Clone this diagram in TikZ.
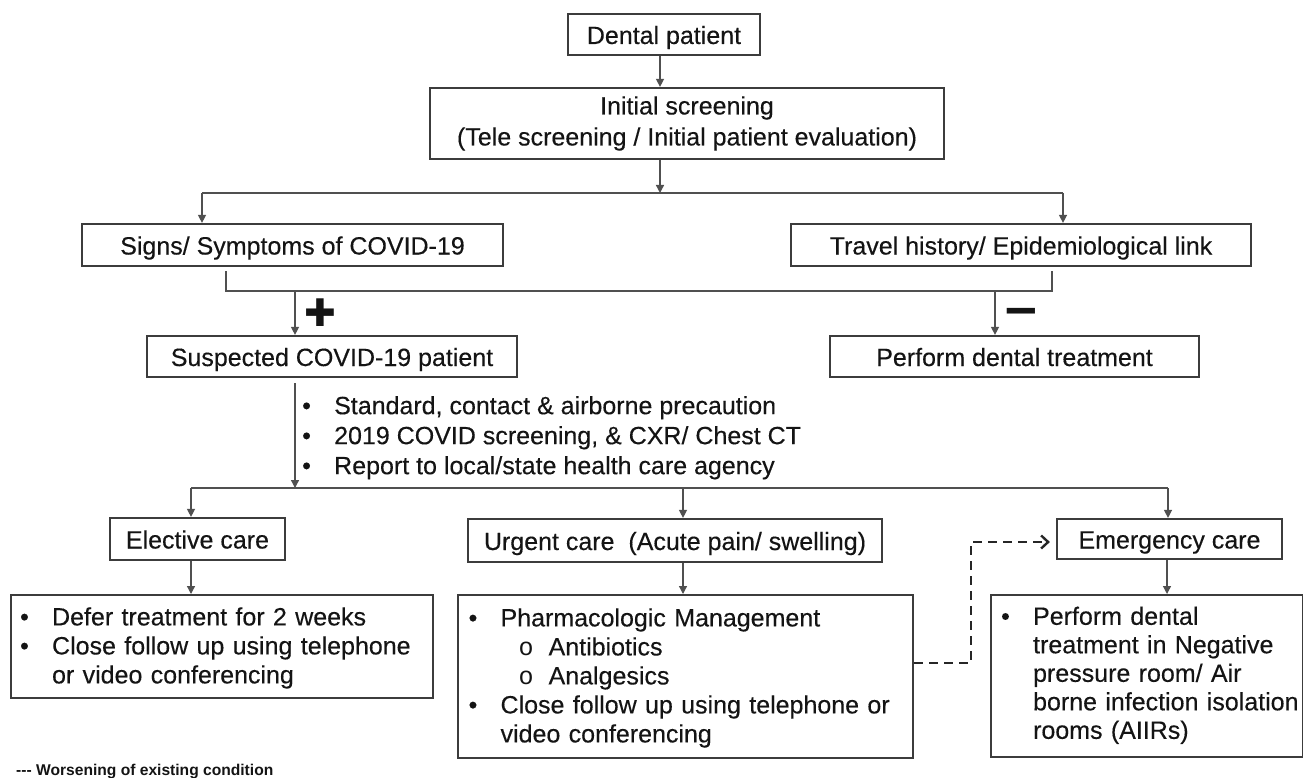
\documentclass[tikz,border=0pt]{standalone}
\usepackage{fontspec}
\setmainfont{Liberation Sans}[UprightFeatures={FakeBold=0.3}]
\setmonofont{Liberation Mono}
\newfontfamily\dejavu{DejaVu Sans}
\usetikzlibrary{arrows.meta}
\definecolor{boxc}{HTML}{3C3C3C}
\definecolor{linec}{HTML}{505050}
\definecolor{txtc}{HTML}{141414}
\newcommand\subbul[1]{\hspace*{18pt}\makebox[30pt][l]{\ttfamily o}#1}
\begin{document}
\begin{tikzpicture}[x=1pt,y=-1pt,
  every node/.style={text=txtc},
  boxbase/.style={draw=boxc, line width=2.2pt, inner sep=0pt, font=\fontsize{25}{29}\selectfont},
  box/.style={boxbase, text height=23pt, text depth=4pt},
  listbox/.style={boxbase, anchor=north west, align=left},
  arr/.style={draw=linec, line width=1.3pt, -{Triangle[length=8pt,width=8pt]}},
  conn/.style={draw=linec, line width=1.3pt},
  dasharr/.style={draw=black!85, line width=2.4pt, dash pattern=on 9pt off 6pt, -{Straight Barb[length=7pt,width=13pt,line width=2.4pt]}},
]
\useasboundingbox (0,0) rectangle (1303,778);

% boxes
\node[box, minimum width=192pt, minimum height=41pt] (dental) at (664,34.5) {Dental patient};
\node[boxbase, align=center, minimum width=514pt, minimum height=71pt, font=\fontsize{25}{31}\selectfont] (init) at (687,123.5) {Initial screening\\(Tele screening / Initial patient evaluation)};
\node[box, minimum width=421pt, minimum height=42pt] (signs) at (292.5,245) {Signs/ Symptoms of COVID-19};
\node[box, minimum width=460pt, minimum height=42pt] (travel) at (1021,245) {Travel history/ Epidemiological link};
\node[box, minimum width=370pt, minimum height=41pt] (suspected) at (332,356.5) {Suspected COVID-19 patient};
\node[box, minimum width=369pt, minimum height=41pt] (perform) at (1014.5,356.5) {Perform dental treatment};

\node[anchor=north west, inner sep=0pt, font=\fontsize{25}{30}\selectfont] (prec) at (302,393)
  {\begin{tabular}{@{}p{32pt}@{}l@{}}
   •&Standard, contact \& airborne precaution\\
   •&2019 COVID screening, \& CXR/ Chest CT\\
   •&Report to local/state health care agency
   \end{tabular}};

\node[box, minimum width=175pt, minimum height=42pt] (elective) at (197.5,539) {Elective care};
\node[box, minimum width=414pt, minimum height=43pt] (urgent) at (675,540.5) {Urgent care\ \ (Acute pain/ swelling)};
\node[box, minimum width=225pt, minimum height=40pt] (emergency) at (1169.5,539) {Emergency care};

\node[listbox, minimum width=422pt, minimum height=103pt, text width=404pt, inner xsep=9pt] (elecbox) at (10,594)
  {\vspace*{6pt}\raisebox{-5pt}[\height][\depth]{\begin{tabular}{@{}p{32pt}@{}l@{}}
   •&Defer treatment for 2 weeks\\
   •&Close follow up using telephone\\
   &or video conferencing
   \end{tabular}}};
\node[listbox, minimum width=455pt, minimum height=163pt, text width=434pt, inner xsep=10.5pt] (urgbox) at (457,594)
  {\vspace*{4pt}\raisebox{-4pt}[\height][\depth]{\begin{tabular}{@{}p{32pt}@{}l@{}}
   •&Pharmacologic Management\\
   &\subbul{Antibiotics}\\
   &\subbul{Analgesics}\\
   •&Close follow up using telephone or\\
   &video conferencing
   \end{tabular}}};
\node[listbox, minimum width=312pt, minimum height=162pt, text width=292pt, inner xsep=10pt, font=\fontsize{25}{28.5}\selectfont] (emerbox) at (990,594)
  {\begin{tabular}{@{}p{32pt}@{}l@{}}
   •&Perform dental\\
   &treatment in Negative\\
   &pressure room/ Air\\
   &borne infection isolation\\
   &rooms (AIIRs)
   \end{tabular}};

% signs
\node[font=\dejavu\fontsize{38}{38}\selectfont, inner sep=0pt] (plus) at (320,313) {✚};
\node[font=\bfseries\fontsize{57}{57}\selectfont, inner sep=0pt] (minus) at (1021,317) {–};

% legend
\node[anchor=west, inner sep=0pt, font=\bfseries\fontsize{15.6}{17}\selectfont] (legend) at (16,771) {{-}{-}{-} Worsening of existing condition};

% coordinates
\coordinate (j1) at (660,193);
\coordinate (jl) at (202,193);
\coordinate (jr) at (1063,193);
\coordinate (ml) at (226,291);
\coordinate (mr) at (1052,291);
\coordinate (mp) at (295,291);
\coordinate (mm) at (995,291);
\coordinate (j2) at (295,488);
\coordinate (kl) at (191,488);
\coordinate (ku) at (683,488);
\coordinate (kr) at (1168,488);
\coordinate (d1) at (971,663);
\coordinate (d2) at (971,542);

% connectors
\draw[arr] ([xshift=-4pt]dental.south) -- ([xshift=-4pt]dental.south |- init.north);
\draw[arr] (init.south -| j1) -- (j1);
\draw[conn] (jl) -- (jr);
\draw[arr] (jl) -- (jl |- signs.north);
\draw[arr] (jr) -- (jr |- travel.north);
\draw[conn] ([yshift=-4pt]signs.south -| ml) -- (ml) -- (mr) -- ([yshift=-4pt]travel.south -| mr);
\draw[arr] (mp) -- (mp |- suspected.north);
\draw[arr] (mm) -- (mm |- perform.north);
\draw[arr] ([yshift=-5pt]suspected.south -| j2) -- (j2);
\draw[conn] (kl) -- (kr);
\draw[arr] (kl) -- (kl |- elective.north);
\draw[arr] (ku) -- (ku |- urgent.north);
\draw[arr] (kr) -- (kr |- emergency.north);
\draw[arr] (elective.south -| kl) -- (kl |- elecbox.north);
\draw[arr] (urgent.south -| ku) -- (ku |- urgbox.north);
\draw[arr] ([xshift=-1pt]emergency.south -| kr) -- ([xshift=-1pt]kr |- emerbox.north);
\draw[dasharr] (urgbox.east |- d1) -- (d1) -- (d2) -- ([xshift=-6pt]emergency.west |- d2);
\end{tikzpicture}
\end{document}
